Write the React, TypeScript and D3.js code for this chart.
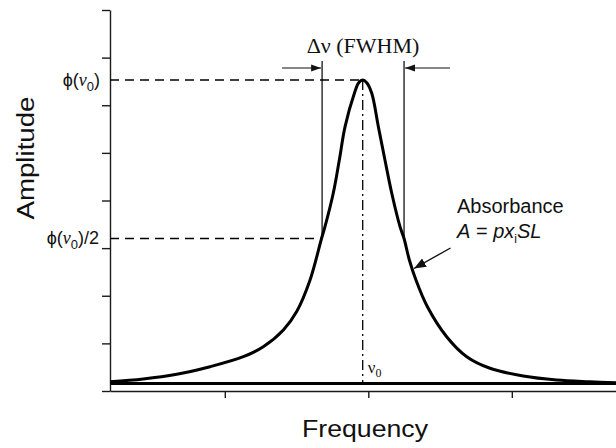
import React, { useEffect, useRef } from "react";
import * as d3 from "d3";

const W = 616;
const H = 448;

// Frequency axis (arbitrary units) and amplitude axis (arbitrary units)
const freqDomain = [0, 3.526];
const ampDomain = [0, 8];
const freqTicks = [0.8, 1.8, 2.8];
const ampTicks = [0, 1, 2, 3, 4, 5, 6, 7, 8];

// Absorbance line profile
const profileFreq = [
  0, 0.232, 0.465, 0.697, 0.929, 1.068, 1.208, 1.301, 1.394, 1.474, 1.498, 1.556, 1.598, 1.638, 1.703,
  1.733, 1.761, 1.789, 1.824, 1.87, 1.916, 1.963, 2.021, 2.049, 2.086, 2.132, 2.209, 2.346, 2.486, 2.648,
  2.88, 3.113, 3.345, 3.526,
];
const profileAmp = [
  0.195, 0.252, 0.351, 0.51, 0.72, 0.93, 1.281, 1.669, 2.331, 3.202, 3.45, 4.157, 4.85, 5.55, 6.251,
  6.473, 6.53, 6.473, 6.251, 5.55, 4.85, 4.157, 3.45, 3.202, 2.751, 2.331, 1.785, 1.14, 0.72, 0.477,
  0.315, 0.231, 0.195, 0.174,
];

const baselineAmp = 0.16;
const peakFreq = 1.761;
const peakAmp = 6.53;
const halfAmp = 3.2;
const fwhmLow = 1.478;
const fwhmHigh = 2.049;

const margin = { left: 110, right: 0, top: 10, bottom: 57 };

export default function App() {
  const xAxisRef = useRef<SVGGElement>(null);
  const yAxisRef = useRef<SVGGElement>(null);

  const x = d3.scaleLinear().domain(freqDomain).range([margin.left, W - margin.right]);
  const y = d3.scaleLinear().domain(ampDomain).range([H - margin.bottom, margin.top]);

  useEffect(() => {
    if (xAxisRef.current) {
      const g = d3.select(xAxisRef.current);
      g.call(
        d3
          .axisBottom(x)
          .tickValues(freqTicks)
          .tickSize(7)
          .tickSizeOuter(0)
          .tickFormat(() => "")
      );
      g.selectAll("path,line").attr("stroke", "#1a1a1a").attr("stroke-width", 1.4);
    }
    if (yAxisRef.current) {
      const g = d3.select(yAxisRef.current);
      g.call(
        d3
          .axisLeft(y)
          .tickValues(ampTicks)
          .tickSize(8)
          .tickSizeOuter(0)
          .tickFormat(() => "")
      );
      g.selectAll("path,line").attr("stroke", "#1a1a1a").attr("stroke-width", 1.4);
    }
  }, []);

  const pts: [number, number][] = profileFreq.map((f, i) => [f, profileAmp[i]]);
  const line = d3
    .line<[number, number]>()
    .x((d) => x(d[0]))
    .y((d) => y(d[1]))
    .curve(d3.curveCatmullRom.alpha(0.5));

  const sans = "'Liberation Sans', Arial, sans-serif";
  const serif = "'Liberation Serif', 'Times New Roman', serif";

  const xPeak = x(peakFreq);
  const yPeak = y(peakAmp);
  const yHalf = y(halfAmp);
  const xL = x(fwhmLow);
  const xR = x(fwhmHigh);
  const yTopFwhm = 61;
  const yArrow = 68;

  return (
    <svg
      width={W}
      height={H}
      style={{ position: "absolute", left: 0, top: 0, background: "#fff" }}
    >
      <defs>
        <marker
          id="ah"
          viewBox="0 0 10 10"
          refX={10}
          refY={5}
          markerWidth={10}
          markerHeight={10}
          markerUnits="userSpaceOnUse"
          orient="auto"
        >
          <path d="M0,1.5 L10,5 L0,8.5 Z" fill="#111" />
        </marker>
        <marker
          id="ah2"
          viewBox="0 0 10 10"
          refX={10}
          refY={5}
          markerWidth={12}
          markerHeight={12}
          markerUnits="userSpaceOnUse"
          orient="auto"
        >
          <path d="M0,1 L10,5 L0,9 Z" fill="#111" />
        </marker>
      </defs>

      <g ref={xAxisRef} transform={`translate(0,${y(0)})`} />
      <g ref={yAxisRef} transform={`translate(${margin.left},0)`} />

      {/* baseline */}
      <line
        x1={x(freqDomain[0])}
        x2={x(freqDomain[1])}
        y1={y(baselineAmp)}
        y2={y(baselineAmp)}
        stroke="#000"
        strokeWidth={3}
      />

      {/* peak and half-height dashed lines */}
      <line x1={margin.left} x2={xPeak} y1={yPeak} y2={yPeak} stroke="#000" strokeWidth={1.5} strokeDasharray="9,6" />
      <line x1={margin.left} x2={xL} y1={yHalf} y2={yHalf} stroke="#000" strokeWidth={1.5} strokeDasharray="9,6" />

      {/* center dash-dot line */}
      <line
        x1={xPeak}
        x2={xPeak}
        y1={yPeak}
        y2={y(baselineAmp)}
        stroke="#000"
        strokeWidth={1.3}
        strokeDasharray="10,4,2,4"
      />

      {/* FWHM vertical lines */}
      <line x1={xL} x2={xL} y1={yTopFwhm} y2={yHalf} stroke="#000" strokeWidth={1.2} />
      <line x1={xR} x2={xR} y1={yTopFwhm} y2={yHalf} stroke="#000" strokeWidth={1.2} />

      {/* FWHM arrows */}
      <line x1={282} x2={xL - 1} y1={yArrow} y2={yArrow} stroke="#111" strokeWidth={1} markerEnd="url(#ah)" />
      <line x1={450} x2={xR + 1} y1={yArrow} y2={yArrow} stroke="#111" strokeWidth={1} markerEnd="url(#ah)" />

      {/* profile */}
      <path d={line(pts) || ""} fill="none" stroke="#000" strokeWidth={3} />

      {/* Absorbance arrow */}
      <line x1={450.5} y1={248} x2={414} y2={268.5} stroke="#111" strokeWidth={1.4} markerEnd="url(#ah2)" />

      {/* texts */}
      <text x={363} y={53} textAnchor="middle" fontFamily={serif} fontSize={22} fill="#111">
        Δν (FWHM)
      </text>

      <text x={xPeak + 5} y={373} fontFamily={serif} fontSize={17} fill="#111">
        ν<tspan dy={4} fontSize={12}>0</tspan>
      </text>

      <text x={100} y={86} textAnchor="end" fontFamily={sans} fontSize={18} fill="#111">
        ϕ(<tspan fontFamily={serif} fontStyle="italic">ν</tspan>
        <tspan dy={5} fontSize={13}>0</tspan>
        <tspan dy={-5}>)</tspan>
      </text>

      <text x={99} y={244} textAnchor="end" fontFamily={sans} fontSize={18} fill="#111">
        ϕ(<tspan fontFamily={serif} fontStyle="italic">ν</tspan>
        <tspan dy={5} fontSize={13}>0</tspan>
        <tspan dy={-5}>)/2</tspan>
      </text>

      <text
        transform={`translate(34,${158}) rotate(-90)`}
        textAnchor="middle"
        fontFamily={sans}
        fontSize={23}
        fill="#111"
        textLength={123}
        lengthAdjust="spacingAndGlyphs"
      >
        Amplitude
      </text>

      <text
        x={365}
        y={437}
        textAnchor="middle"
        fontFamily={sans}
        fontSize={24}
        fill="#111"
        textLength={126}
        lengthAdjust="spacingAndGlyphs"
      >
        Frequency
      </text>

      <text x={457} y={213} fontFamily={sans} fontSize={20} fill="#111">
        Absorbance
      </text>
      <text x={457} y={238} fontFamily={sans} fontSize={20} fill="#111">
        <tspan fontStyle="italic">A</tspan> = <tspan fontStyle="italic">px</tspan>
        <tspan dy={5} fontSize={12}>i</tspan>
        <tspan dy={-5} fontStyle="italic">SL</tspan>
      </text>
    </svg>
  );
}
